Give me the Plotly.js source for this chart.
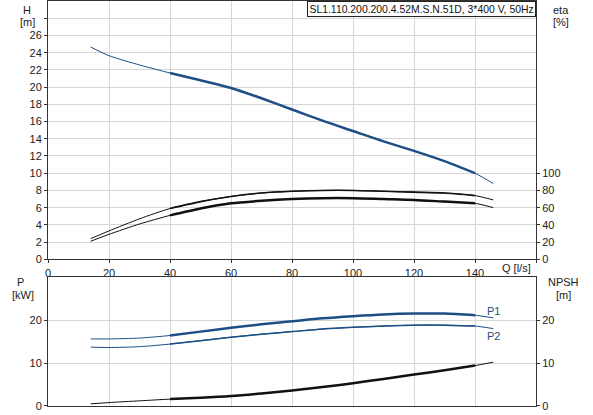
<!DOCTYPE html>
<html>
<head>
<meta charset="utf-8">
<script src="https://cdn.plot.ly/plotly-3.0.1.min.js"></script>
<style>
  body { margin: 0; background: #fff; }
  #chart { width: 593px; height: 415px; }
</style>
</head>
<body>
<div id="chart"></div>
<script>
// flow points [l/s]
let q = [14, 20, 30, 40, 50, 60, 70, 80, 90, 100, 110, 120, 130, 140, 146];

// head [m]
let head = [24.65, 23.65, 22.57, 21.64, 20.8, 19.9, 18.7, 17.4, 16.1, 14.9, 13.7, 12.6, 11.4, 10.0, 8.8];
// efficiencies [%]
let etaUpper = [24, 33, 47, 59, 67, 73, 77, 79, 80, 80, 79, 78, 77, 74, 69];
let etaLower = [21, 29, 41, 51, 59, 65, 68, 70, 71, 71, 70, 69, 67, 65, 60];
// power [kW]
let p1 = [15.6, 15.6, 15.8, 16.4, 17.3, 18.2, 19.0, 19.7, 20.4, 20.9, 21.3, 21.5, 21.5, 21.1, 20.5];
let p2 = [13.7, 13.6, 13.8, 14.4, 15.2, 16.0, 16.7, 17.3, 17.9, 18.3, 18.6, 18.8, 18.8, 18.6, 18.0];
// NPSH [m]
let npsh = [0.5, 0.8, 1.2, 1.6, 1.9, 2.3, 2.9, 3.6, 4.4, 5.3, 6.3, 7.3, 8.3, 9.4, 10.2];

let xTicks = [0, 20, 40, 60, 80, 100, 120, 140, 160];
let xTickText = ['0', '20', '40', '60', '80', '100', '120', '140', ''];
let hTicks = [0, 2, 4, 6, 8, 10, 12, 14, 16, 18, 20, 22, 24, 26, 28];
let hTickText = ['0', '2', '4', '6', '8', '10', '12', '14', '16', '18', '20', '22', '24', '26', ''];
let etaTicks = [0, 20, 40, 60, 80, 100];
let pTicks = [0, 10, 20];

const blue = '#1d4f86';
const black = '#111111';
const font = 'Liberation Sans, Arial, sans-serif';

// whole curve thin, then the 40..140 part drawn heavier on top
function curve(y, xa, ya, color, thin, thick) {
  let mid = [3, 14];
  return [
    { x: q, y: y, xaxis: xa, yaxis: ya, mode: 'lines', line: { color: color, width: thin, shape: 'spline', smoothing: 0.7 }, hoverinfo: 'skip' },
    { x: q.slice(mid[0], mid[1]), y: y.slice(mid[0], mid[1]), xaxis: xa, yaxis: ya, mode: 'lines', line: { color: color, width: thick, shape: 'spline', smoothing: 0.7 }, hoverinfo: 'skip' }
  ];
}

var traces = [].concat(
  curve(head, 'x', 'y', blue, 1, 2.5),
  curve(etaUpper, 'x', 'y2', black, 1, 1.6),
  curve(etaLower, 'x', 'y2', black, 1, 2.5),
  curve(p1, 'x2', 'y3', blue, 1, 2.5),
  curve(p2, 'x2', 'y3', blue, 1, 1.5),
  curve(npsh, 'x2', 'y4', black, 1, 2.5)
);

let axisLine = { showline: true, linecolor: '#333', linewidth: 1, mirror: true, zeroline: false,
  gridcolor: '#d6d6d6', gridwidth: 1, ticks: 'outside', ticklen: 3, tickcolor: '#333',
  tickfont: { family: font, size: 11, color: '#222' } };

function label(text, x, y, anchor, color) {
  return { text: text, xref: 'paper', yref: 'paper', x: x, y: y, xanchor: anchor || 'center', yanchor: 'middle',
    showarrow: false, font: { size: 11, color: color || '#222' } };
}

var layout = {
  width: 593, height: 415,
  margin: { l: 48, r: 57, t: 1, b: 9 },
  paper_bgcolor: '#fff', plot_bgcolor: '#fff',
  showlegend: false,
  font: { family: font, size: 11, color: '#222' },
  xaxis: Object.assign({}, axisLine, { range: [0, 160], tickvals: xTicks, ticktext: xTickText, anchor: 'y', domain: [0, 1] }),
  yaxis: Object.assign({}, axisLine, { range: [0, 30], tickvals: hTicks, ticktext: hTickText, domain: [0.3622, 1] }),
  yaxis2: Object.assign({}, axisLine, { range: [0, 300], tickvals: etaTicks, overlaying: 'y', side: 'right', showgrid: false, showline: false }),
  xaxis2: Object.assign({}, axisLine, { range: [0, 160], tickvals: xTicks, showticklabels: false, ticks: '', anchor: 'y3', domain: [0, 1] }),
  yaxis3: Object.assign({}, axisLine, { range: [0, 30], tickvals: pTicks, domain: [0, 0.3185] }),
  yaxis4: Object.assign({}, axisLine, { range: [0, 30], tickvals: pTicks, overlaying: 'y3', side: 'right', showgrid: false, showline: false }),
  annotations: [
    { text: 'SL1.110.200.200.4.52M.S.N.51D, 3*400 V, 50Hz', xref: 'paper', yref: 'paper', x: 1, y: 1, xanchor: 'right', yanchor: 'top',
      showarrow: false, bgcolor: '#fff', bordercolor: '#222', borderwidth: 1, borderpad: 1.5, font: { family: font, size: 10.4, color: '#111' } },
    label('H', -0.043, 0.978),
    label('[m]', -0.043, 0.948),
    label('eta', 1.051, 0.978),
    label('[%]', 1.051, 0.948),
    label('Q [l/s]', 0.994, 0.341, 'right'),
    label('P', -0.057, 0.306),
    label('[kW]', -0.051, 0.274),
    label('NPSH', 1.057, 0.306),
    label('[m]', 1.057, 0.274),
    label('P1', 0.895, 0.234, 'left', '#2a4d7a'),
    label('P2', 0.895, 0.173, 'left', '#2a4d7a')
  ]
};

Plotly.newPlot('chart', traces, layout, { staticPlot: true, displayModeBar: false });
</script>
</body>
</html>
